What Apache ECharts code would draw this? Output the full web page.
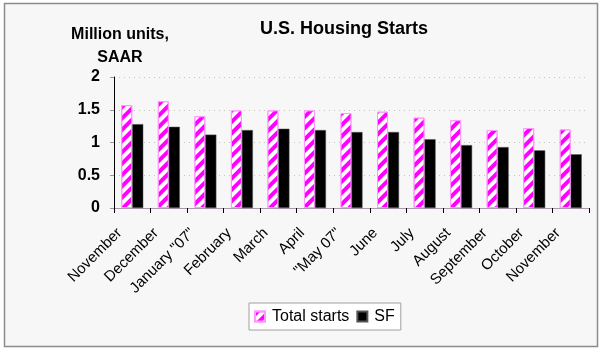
<!DOCTYPE html>
<html>
<head>
<meta charset="utf-8">
<script src="https://cdn.jsdelivr.net/npm/echarts@6/dist/echarts.min.js"></script>
<style>
  html, body { margin: 0; padding: 0; background: #ffffff; }
  #main { width: 602px; height: 351px; }
</style>
</head>
<body>
<div id="main"></div>
<script>
// months on the x axis
var months = ['November', 'December', 'January "07"', 'February', 'March', 'April', '"May 07"',
  'June', 'July', 'August', 'September', 'October', 'November'];
// million units, SAAR
var totalStarts = [1.57, 1.63, 1.40, 1.49, 1.49, 1.49, 1.45, 1.47, 1.38, 1.34, 1.19, 1.22, 1.20];
var sfStarts = [1.28, 1.24, 1.12, 1.19, 1.21, 1.19, 1.16, 1.16, 1.05, 0.96, 0.93, 0.88, 0.82];

var myChart = echarts.init(document.getElementById('main'));
var font = 'Liberation Sans, Arial, sans-serif';

var option = {
  backgroundColor: '#ffffff',
  animation: false,
  textStyle: { fontFamily: font, color: '#000' },
  graphic: [
    {
      // outer chart frame
      type: 'rect',
      shape: { x: 4.5, y: 3.5, width: 593, height: 343 },
      style: { fill: '#f7f7f7', stroke: '#8c8c8c', lineWidth: 1.5 },
      z: -10
    }
  ],
  title: {
    text: 'U.S. Housing Starts',
    left: 339,
    textAlign: 'center',
    top: 15,
    textStyle: { fontSize: 18, fontWeight: 'bold', fontFamily: font, color: '#000' }
  },
  legend: {
    data: [
      { name: 'Total starts', icon: 'rect' },
      { name: 'SF', icon: 'rect' }
    ],
    left: 249,
    top: 303,
    itemWidth: 10,
    itemHeight: 10,
    itemGap: 7,
    backgroundColor: '#ffffff',
    borderColor: '#a0a0a0',
    borderWidth: 1,
    borderRadius: 0,
    padding: [5, 6, 5, 5],
    textStyle: { fontSize: 16, lineHeight: 17, fontFamily: font, color: '#000', padding: [0, 0, 0, 2] }
  },
  grid: {
    left: 114,
    right: 13,
    top: 77,
    bottom: 143
  },
  xAxis: {
    type: 'category',
    data: months,
    axisLine: { lineStyle: { color: '#a89aa8', width: 1 } },
    axisTick: { show: true, length: 5, lineStyle: { color: '#000' } },
    axisLabel: {
      rotate: 45,
      interval: 0,
      margin: 10,
      padding: [0, 18, 0, 0],
      fontSize: 15,
      fontFamily: font,
      color: '#000'
    }
  },
  yAxis: {
    type: 'value',
    name: 'Million units,\nSAAR',
    nameLocation: 'end',
    nameGap: 3,
    nameTextStyle: {
      fontSize: 16,
      fontWeight: 'bold',
      fontFamily: font,
      color: '#000',
      align: 'center',
      lineHeight: 23,
      padding: [0, 0, 0, 12]
    },
    min: 0,
    max: 2,
    interval: 0.5,
    axisLine: { show: true, lineStyle: { color: '#000', width: 1 } },
    axisTick: { show: true, length: 4, lineStyle: { color: '#999' } },
    axisLabel: {
      fontSize: 16,
      fontWeight: 'bold',
      fontFamily: font,
      color: '#000',
      margin: 14
    },
    splitLine: { lineStyle: { color: '#c9c3b8', type: [1, 4] } }
  },
  series: [
    {
      name: 'Total starts',
      type: 'bar',
      data: totalStarts,
      barWidth: 11,
      barGap: '0%',
      itemStyle: {
        color: '#ffffff',
        borderColor: '#ff99ff',
        borderWidth: 1,
        decal: {
          symbol: 'rect',
          color: '#ff00ff',
          dashArrayX: [1, 0],
          dashArrayY: [4, 4],
          rotation: -Math.PI / 4
        }
      }
    },
    {
      name: 'SF',
      type: 'bar',
      data: sfStarts,
      barWidth: 11,
      itemStyle: {
        color: '#000000',
        borderColor: '#555',
        borderWidth: 0.5
      }
    }
  ]
};

myChart.setOption(option);
</script>
</body>
</html>
